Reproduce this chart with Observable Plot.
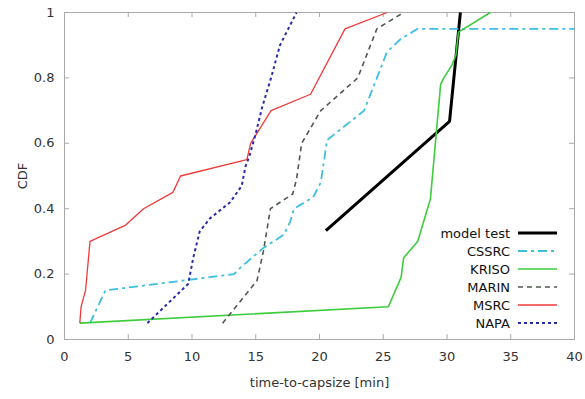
<!DOCTYPE html>
<html><head><meta charset="utf-8">
<script src="https://cdn.jsdelivr.net/npm/d3@7"></script>
<script src="https://cdn.jsdelivr.net/npm/@observablehq/plot@0.6"></script>
<style>
body{margin:0;background:#fff;}
#chart svg{font-family:"DejaVu Sans",sans-serif;}
</style>
</head><body><div id="chart"></div>
<script>
// ---- data ----
const seriesNames = ["model test", "CSSRC", "KRISO", "MARIN", "MSRC", "NAPA"];
const modelTest = [[20.5,0.333],[30.2,0.667],[31.05,1.0]];
const cssrc = [[2.0,0.05],[3.2,0.15],[13.3,0.2],[13.8,0.22],[15.6,0.28],[17.2,0.32],[17.7,0.36],[18.0,0.40],[19.5,0.435],[20.1,0.48],[20.6,0.61],[23.5,0.70],[25.3,0.88],[26.4,0.92],[27.7,0.95],[40,0.95]];
const kriso = [[1.2,0.05],[25.4,0.1],[26.4,0.19],[26.6,0.25],[27.7,0.30],[28.7,0.43],[29.5,0.78],[29.75,0.80],[30.4,0.84],[30.7,0.87],[30.9,0.94],[33.4,1.0]];
const marin = [[12.4,0.05],[15.1,0.18],[15.6,0.27],[16.15,0.40],[17.9,0.445],[18.2,0.49],[18.6,0.6],[20.1,0.70],[23.0,0.80],[23.5,0.85],[24.5,0.95],[26.6,1.0]];
const msrc = [[1.2,0.05],[1.3,0.1],[1.65,0.15],[2.0,0.3],[4.8,0.35],[6.2,0.4],[8.5,0.45],[9.1,0.5],[14.3,0.55],[14.6,0.6],[16.2,0.7],[19.3,0.75],[22.0,0.95],[25.3,1.0]];
const napa = [[6.5,0.05],[9.7,0.17],[10.1,0.25],[10.6,0.33],[11.4,0.37],[13.0,0.42],[13.9,0.47],[14.2,0.53],[14.5,0.56],[15.0,0.63],[15.5,0.71],[16.2,0.8],[16.9,0.9],[18.2,1.0]];
const xTicks = [0,5,10,15,20,25,30,35,40];
const yTicks = [0,0.2,0.4,0.6,0.8,1];
const xLabel = "time-to-capsize [min]";
const yLabel = "CDF";

// ---- styles ----
const styles = {
  "model test": {stroke:"#000000", strokeWidth:3, dash:null},
  "CSSRC": {stroke:"#3dbfe0", strokeWidth:1.8, dash:"9,4,3,4"},
  "KRISO": {stroke:"#3ccc3c", strokeWidth:1.6, dash:null},
  "MARIN": {stroke:"#4f5a4f", strokeWidth:1.6, dash:"5,4"},
  "MSRC": {stroke:"#f03a3a", strokeWidth:1.3, dash:null},
  "NAPA": {stroke:"#2a2aa8", strokeWidth:2, dash:"3,3"}
};
const dataBy = {"model test":modelTest, "CSSRC":cssrc, "KRISO":kriso, "MARIN":marin, "MSRC":msrc, "NAPA":napa};
const rows = seriesNames.flatMap(s => dataBy[s].map(([x,y]) => ({series:s, x, y})));

const W = 585, H = 399, mL = 64, mR = 11, mT = 12, mB = 60;
const pw = W - mL - mR, ph = H - mT - mB;
const gridCol = "#aaaaaa", textCol = "#333333";

const marks = [
  Plot.frame({stroke: gridCol}),
  Plot.tickX(xTicks, {x: d => d, insetTop: ph - 5, stroke: gridCol}),
  Plot.tickX(xTicks, {x: d => d, insetBottom: ph - 5, stroke: gridCol}),
  Plot.tickY(yTicks, {y: d => d, insetRight: pw - 5, stroke: gridCol}),
  Plot.tickY(yTicks, {y: d => d, insetLeft: pw - 5, stroke: gridCol}),
  Plot.axisX(xTicks, {tickSize: 0, tickPadding: 12, fontSize: 13, fill: textCol,
    label: xLabel, labelAnchor: "center", labelArrow: "none", labelOffset: 47}),
  Plot.axisY(yTicks, {tickSize: 0, tickPadding: 10, fontSize: 13, fill: textCol, tickFormat: d => String(d),
    label: yLabel, labelAnchor: "center", labelArrow: "none", labelOffset: 47}),
  ...seriesNames.map(s => Plot.line(rows.filter(r => r.series === s), {
    x: "x", y: "y", stroke: styles[s].stroke, strokeWidth: styles[s].strokeWidth,
    strokeDasharray: styles[s].dash, strokeLinejoin: "miter", strokeLinecap: "butt"
  }))
];

const chart = Plot.plot({
  width: W, height: H,
  marginLeft: mL, marginRight: mR, marginTop: mT, marginBottom: mB,
  style: {fontFamily: "DejaVu Sans, sans-serif", fontSize: "13px", color: textCol, background: "#fff"},
  x: {domain: [0, 40]},
  y: {domain: [0, 1]},
  marks
});
document.getElementById("chart").appendChild(chart);

// ---- legend (inside the plot, bottom right) ----
const svg = d3.select(chart);
const lg = svg.append("g").attr("font-family", "DejaVu Sans, sans-serif").attr("font-size", 13);
const lx = 510, ly0 = 233, dyRow = 18;
seriesNames.forEach((s, i) => {
  const y = ly0 + i * dyRow;
  lg.append("text").attr("x", lx).attr("y", y).attr("dy", "0.35em")
    .attr("text-anchor", "end").attr("fill", "#111").text(s);
  lg.append("line").attr("x1", 518).attr("x2", 557).attr("y1", y).attr("y2", y)
    .attr("stroke", styles[s].stroke).attr("stroke-width", styles[s].strokeWidth)
    .attr("stroke-dasharray", styles[s].dash);
});
</script>
</body></html>
